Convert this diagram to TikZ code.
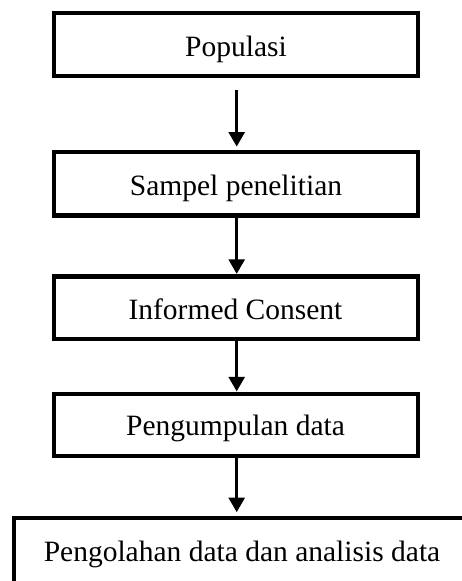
\documentclass[tikz,border=0pt]{standalone}
\usepackage{fontspec}
\setmainfont{Liberation Serif}
\usetikzlibrary{arrows.meta}
\begin{document}
\begin{tikzpicture}[x=1pt,y=-1pt,
  box/.style={draw=black,line width=4.3pt,rectangle,inner sep=0pt,fill=white},
  lbl/.style={anchor=base,inner sep=0pt,font=\fontsize{29.5}{35}\selectfont},
  arr/.style={line width=2.6pt,-{Triangle[width=16pt,length=14.5pt]}}]
\useasboundingbox (0,0) rectangle (462,581);
\clip (0,0) rectangle (462,581);
\node[box,minimum width=364pt,minimum height=63pt] (b1) at (236,44.5) {};
\node[box,minimum width=364pt,minimum height=63.5pt] (b2) at (236,183.75) {};
\node[box,minimum width=364pt,minimum height=62.5pt] (b3) at (236,307.75) {};
\node[box,minimum width=364pt,minimum height=62pt] (b4) at (236,425) {};
\node[box,minimum width=476pt,minimum height=68pt] (b5) at (252,552) {};
\node[lbl] (t1) at (236,56) {Populasi};
\node[lbl] (t2) at (236,195) {Sampel penelitian};
\node[lbl] (t3) at (235.5,319.3) {Informed Consent};
\node[lbl] (t4) at (235.5,435) {Pengumpulan data};
\node[lbl] (t5) at (242,561.7) {Pengolahan data dan analisis data};
\draw[arr] ([xshift=0.7pt,yshift=-11.7pt]b1.south) -- ([xshift=0.7pt,yshift=3.3pt]b2.north);
\draw[arr] ([xshift=0.7pt]b2.south) -- ([xshift=0.7pt,yshift=0.5pt]b3.north);
\draw[arr] ([xshift=0.7pt]b3.south) -- ([xshift=0.7pt,yshift=0.5pt]b4.north);
\draw[arr] ([xshift=0.7pt]b4.south) -- ([xshift=-15.3pt,yshift=3.7pt]b5.north);
\end{tikzpicture}
\end{document}
